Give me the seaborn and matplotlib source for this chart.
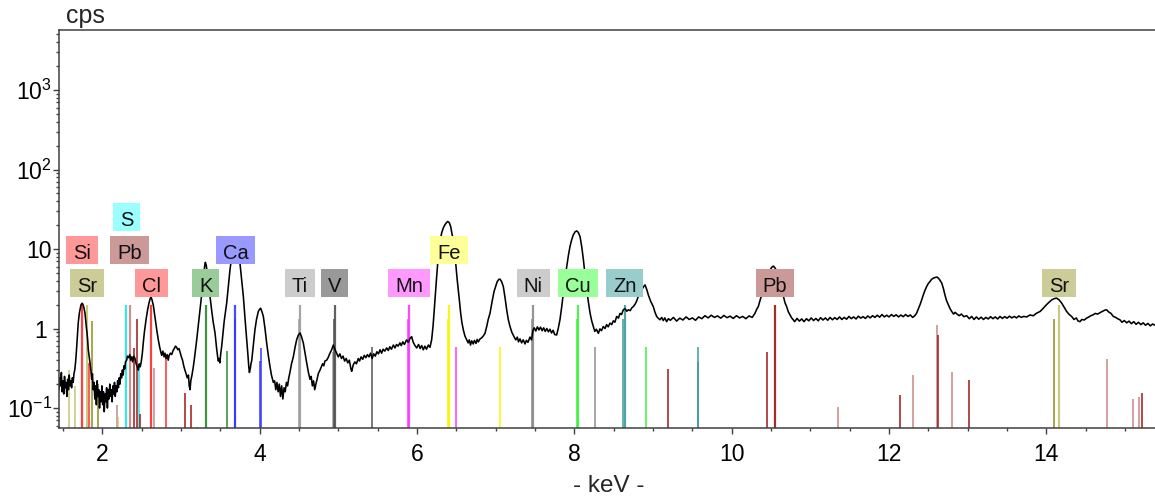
import numpy as np
import pandas as pd
import matplotlib
matplotlib.use("Agg")
import matplotlib.pyplot as plt
import matplotlib.transforms as mtransforms
from matplotlib.patches import Rectangle
from matplotlib.ticker import FixedLocator, FixedFormatter, MultipleLocator, LogLocator, NullFormatter
import seaborn as sns

# ---------------------------------------------------------------- data
# XRF spectrum: (energy in keV, count rate in cps)
spectrum = [
    (1.45, 0.17), (1.46, 0.24), (1.47, 0.19), (1.48, 0.28), (1.49, 0.16), (1.50, 0.22),
    (1.51, 0.15), (1.52, 0.25), (1.53, 0.18), (1.54, 0.21), (1.55, 0.14), (1.56, 0.23),
    (1.57, 0.17), (1.58, 0.26), (1.59, 0.19), (1.60, 0.22), (1.61, 0.18), (1.62, 0.24),
    (1.63, 0.21), (1.64, 0.27), (1.65, 0.30), (1.66, 0.37), (1.67, 0.50), (1.68, 0.72),
    (1.695, 1.2), (1.71, 1.6), (1.73, 2.0), (1.745, 2.08), (1.755, 2.0), (1.765, 1.85),
    (1.78, 1.57), (1.795, 1.1), (1.806, 0.88), (1.815, 0.7), (1.822, 0.54), (1.833, 0.45),
    (1.844, 0.37), (1.855, 0.30), (1.865, 0.23), (1.875, 0.27), (1.885, 0.17), (1.895, 0.21),
    (1.905, 0.13), (1.915, 0.19), (1.925, 0.11), (1.935, 0.22), (1.945, 0.14), (1.955, 0.17),
    (1.965, 0.10), (1.975, 0.16), (1.985, 0.12), (1.995, 0.19), (2.005, 0.11), (2.015, 0.16),
    (2.025, 0.09), (2.035, 0.15), (2.045, 0.12), (2.055, 0.18), (2.065, 0.10), (2.075, 0.17),
    (2.085, 0.13), (2.095, 0.20), (2.105, 0.14), (2.115, 0.17), (2.125, 0.12), (2.135, 0.19),
    (2.145, 0.15), (2.155, 0.21), (2.165, 0.14), (2.175, 0.19), (2.185, 0.16), (2.195, 0.22),
    (2.205, 0.18), (2.215, 0.24), (2.225, 0.20), (2.235, 0.27), (2.245, 0.24), (2.255, 0.30),
    (2.265, 0.26), (2.275, 0.34), (2.285, 0.31), (2.295, 0.38), (2.31, 0.40), (2.32, 0.45),
    (2.335, 0.43), (2.35, 0.47), (2.36, 0.40), (2.375, 0.44), (2.385, 0.38), (2.40, 0.45),
    (2.416, 0.42), (2.43, 0.36), (2.445, 0.33), (2.458, 0.30), (2.47, 0.36), (2.482, 0.33),
    (2.495, 0.38), (2.51, 0.50), (2.521, 0.66), (2.535, 0.90), (2.556, 1.29), (2.575, 1.7),
    (2.594, 2.1), (2.61, 2.4), (2.62, 2.48), (2.632, 2.3), (2.649, 1.95), (2.665, 1.5),
    (2.679, 1.2), (2.695, 0.92), (2.712, 0.72), (2.73, 0.58), (2.745, 0.50), (2.755, 0.46),
    (2.77, 0.52), (2.785, 0.44), (2.797, 0.49), (2.81, 0.42), (2.825, 0.47), (2.838, 0.40),
    (2.85, 0.46), (2.865, 0.49), (2.882, 0.47), (2.90, 0.53), (2.915, 0.56), (2.93, 0.60),
    (2.945, 0.58), (2.96, 0.54), (2.975, 0.56), (2.99, 0.50), (3.005, 0.44), (3.02, 0.40),
    (3.035, 0.34), (3.05, 0.30), (3.065, 0.27), (3.08, 0.24), (3.095, 0.26), (3.105, 0.19),
    (3.115, 0.17), (3.125, 0.22), (3.14, 0.26), (3.157, 0.33), (3.175, 0.45), (3.20, 0.72),
    (3.22, 1.1), (3.241, 1.72), (3.262, 2.6), (3.284, 4.0), (3.30, 6.0), (3.31, 6.8),
    (3.322, 6.2), (3.345, 4.0), (3.369, 2.5), (3.39, 1.7), (3.41, 1.2), (3.433, 0.88),
    (3.45, 0.60), (3.465, 0.45), (3.475, 0.39), (3.485, 0.42), (3.495, 0.37), (3.505, 0.48),
    (3.517, 0.59), (3.535, 0.90), (3.55, 1.25), (3.565, 1.6), (3.581, 2.09), (3.61, 4.0),
    (3.623, 5.5), (3.645, 8.0), (3.665, 10.5), (3.69, 11.5), (3.715, 10.5), (3.735, 8.0),
    (3.75, 6.6), (3.77, 4.2), (3.793, 2.53), (3.815, 1.3), (3.836, 0.72), (3.85, 0.48),
    (3.862, 0.33), (3.87, 0.28), (3.88, 0.31), (3.89, 0.36), (3.90, 0.40), (3.92, 0.62),
    (3.94, 0.96), (3.96, 1.3), (3.983, 1.64), (4.0, 1.75), (4.013, 1.8), (4.03, 1.62),
    (4.047, 1.42), (4.068, 1.0), (4.089, 0.66), (4.11, 0.46), (4.132, 0.33), (4.15, 0.26),
    (4.174, 0.21), (4.19, 0.22), (4.205, 0.17), (4.22, 0.21), (4.235, 0.16), (4.25, 0.20),
    (4.265, 0.14), (4.28, 0.19), (4.295, 0.13), (4.31, 0.18), (4.325, 0.16), (4.34, 0.21),
    (4.355, 0.19), (4.37, 0.24), (4.385, 0.28), (4.405, 0.36), (4.428, 0.44), (4.45, 0.58),
    (4.47, 0.72), (4.49, 0.82), (4.513, 0.88), (4.53, 0.80), (4.555, 0.66), (4.575, 0.50),
    (4.598, 0.37), (4.62, 0.28), (4.64, 0.23), (4.655, 0.25), (4.67, 0.19), (4.685, 0.22),
    (4.70, 0.17), (4.715, 0.20), (4.73, 0.23), (4.745, 0.27), (4.767, 0.30), (4.785, 0.33),
    (4.80, 0.36), (4.815, 0.34), (4.83, 0.39), (4.852, 0.40), (4.87, 0.43), (4.89, 0.48),
    (4.915, 0.54), (4.936, 0.62), (4.955, 0.55), (4.979, 0.49), (5.0, 0.44), (5.02, 0.48),
    (5.04, 0.42), (5.06, 0.45), (5.08, 0.39), (5.10, 0.42), (5.12, 0.37), (5.14, 0.40),
    (5.16, 0.31), (5.17, 0.29), (5.19, 0.35), (5.21, 0.38), (5.23, 0.36), (5.254, 0.42),
    (5.27, 0.39), (5.29, 0.44), (5.31, 0.41), (5.33, 0.46), (5.35, 0.43), (5.37, 0.47),
    (5.39, 0.44), (5.41, 0.49), (5.43, 0.42), (5.45, 0.48), (5.47, 0.45), (5.49, 0.51),
    (5.51, 0.48), (5.53, 0.54), (5.55, 0.49), (5.57, 0.55), (5.59, 0.52), (5.615, 0.57),
    (5.635, 0.53), (5.655, 0.59), (5.675, 0.55), (5.70, 0.62), (5.72, 0.57), (5.74, 0.63),
    (5.76, 0.60), (5.783, 0.66), (5.80, 0.61), (5.82, 0.68), (5.84, 0.63), (5.868, 0.72),
    (5.89, 0.67), (5.91, 0.75), (5.932, 0.79), (5.95, 0.68), (5.97, 0.62), (5.996, 0.57),
    (6.02, 0.63), (6.04, 0.56), (6.06, 0.61), (6.08, 0.54), (6.10, 0.60), (6.12, 0.55),
    (6.144, 0.62), (6.165, 0.58), (6.186, 0.72), (6.205, 1.1), (6.228, 2.3), (6.25, 4.5),
    (6.27, 8.1), (6.29, 12.0), (6.313, 15.9), (6.335, 18.5), (6.355, 20.2), (6.375, 21.5),
    (6.39, 22.2), (6.41, 21.5), (6.428, 19.2), (6.445, 15.5), (6.461, 13.1), (6.48, 9.0),
    (6.496, 6.0), (6.51, 4.2), (6.525, 3.07), (6.54, 2.2), (6.555, 1.56), (6.57, 1.2),
    (6.589, 0.96), (6.61, 0.80), (6.632, 0.72), (6.65, 0.66), (6.665, 0.72), (6.68, 0.62),
    (6.695, 0.70), (6.715, 0.64), (6.73, 0.71), (6.75, 0.65), (6.765, 0.73), (6.78, 0.68),
    (6.80, 0.74), (6.82, 0.76), (6.84, 0.80), (6.864, 0.87), (6.885, 1.05), (6.905, 1.3),
    (6.928, 1.56), (6.955, 2.2), (6.979, 2.92), (7.0, 3.4), (7.02, 3.9), (7.04, 4.15),
    (7.055, 4.18), (7.075, 3.9), (7.097, 3.38), (7.12, 2.4), (7.14, 1.72), (7.16, 1.3),
    (7.182, 1.06), (7.205, 0.90), (7.233, 0.79), (7.255, 0.72), (7.275, 0.78), (7.29, 0.68),
    (7.309, 0.74), (7.33, 0.66), (7.35, 0.72), (7.373, 0.64), (7.39, 0.71), (7.41, 0.67),
    (7.436, 0.78), (7.455, 0.72), (7.475, 0.95), (7.49, 1.02), (7.51, 0.93), (7.53, 1.05),
    (7.55, 0.96), (7.57, 1.04), (7.59, 0.94), (7.61, 1.02), (7.63, 0.92), (7.65, 1.0),
    (7.67, 0.91), (7.69, 0.98), (7.71, 0.88), (7.73, 0.95), (7.75, 0.84), (7.775, 0.83),
    (7.795, 1.0), (7.817, 1.29), (7.84, 1.9), (7.86, 2.79), (7.88, 4.1), (7.903, 6.0),
    (7.925, 8.4), (7.945, 10.8), (7.965, 13.0), (7.987, 15.1), (8.01, 16.5), (8.03, 16.9),
    (8.05, 16.2), (8.072, 14.4), (8.095, 10.5), (8.115, 7.3), (8.135, 4.8), (8.157, 3.07),
    (8.18, 2.1), (8.20, 1.56), (8.22, 1.25), (8.241, 1.06), (8.26, 0.92), (8.28, 0.98),
    (8.305, 0.87), (8.325, 0.99), (8.345, 0.94), (8.368, 1.06), (8.39, 1.0), (8.41, 1.12),
    (8.43, 1.05), (8.453, 1.17), (8.475, 1.12), (8.495, 1.25), (8.515, 1.2), (8.538, 1.42),
    (8.56, 1.35), (8.58, 1.55), (8.60, 1.5), (8.622, 1.72), (8.645, 1.78), (8.666, 1.65),
    (8.686, 1.72), (8.71, 1.68), (8.73, 1.82), (8.75, 1.89), (8.775, 2.05), (8.79, 2.2),
    (8.805, 2.41), (8.83, 2.75), (8.856, 3.07), (8.875, 3.3), (8.898, 3.54), (8.92, 3.1),
    (8.94, 2.65), (8.97, 2.2), (9.003, 1.89), (9.025, 1.6), (9.046, 1.42), (9.065, 1.35),
    (9.088, 1.29), (9.11, 1.38), (9.13, 1.26), (9.15, 1.36), (9.173, 1.22), (9.195, 1.33),
    (9.22, 1.27), (9.26, 1.38), (9.30, 1.24), (9.34, 1.35), (9.38, 1.28), (9.42, 1.40),
    (9.46, 1.30), (9.50, 1.36), (9.54, 1.27), (9.58, 1.40), (9.62, 1.33), (9.66, 1.45),
    (9.70, 1.36), (9.74, 1.47), (9.78, 1.38), (9.82, 1.44), (9.86, 1.35), (9.90, 1.46),
    (9.94, 1.37), (9.98, 1.43), (10.02, 1.34), (10.06, 1.45), (10.10, 1.36), (10.14, 1.42),
    (10.18, 1.33), (10.22, 1.44), (10.26, 1.38), (10.295, 1.55), (10.318, 1.75), (10.338, 1.89),
    (10.368, 2.41), (10.393, 2.79), (10.42, 3.6), (10.45, 4.5), (10.48, 5.3), (10.51, 5.9),
    (10.53, 6.1), (10.555, 5.7), (10.585, 4.8), (10.61, 3.9), (10.635, 3.1), (10.656, 2.53),
    (10.678, 2.1), (10.698, 1.89), (10.72, 1.62), (10.74, 1.49), (10.762, 1.36), (10.782, 1.29),
    (10.80, 1.22), (10.83, 1.34), (10.86, 1.24), (10.89, 1.32), (10.92, 1.22), (10.95, 1.33),
    (10.98, 1.25), (11.01, 1.36), (11.04, 1.26), (11.07, 1.34), (11.10, 1.25), (11.13, 1.37),
    (11.16, 1.28), (11.19, 1.36), (11.22, 1.27), (11.25, 1.38), (11.28, 1.29), (11.31, 1.37),
    (11.34, 1.30), (11.37, 1.40), (11.40, 1.30), (11.43, 1.38), (11.46, 1.31), (11.49, 1.42),
    (11.52, 1.33), (11.55, 1.40), (11.58, 1.32), (11.61, 1.43), (11.64, 1.35), (11.67, 1.41),
    (11.70, 1.34), (11.73, 1.44), (11.76, 1.36), (11.79, 1.45), (11.82, 1.38), (11.85, 1.47),
    (11.88, 1.39), (11.91, 1.50), (11.94, 1.40), (11.97, 1.47), (12.00, 1.40), (12.03, 1.50),
    (12.06, 1.42), (12.09, 1.49), (12.12, 1.40), (12.15, 1.48), (12.18, 1.41), (12.21, 1.50),
    (12.24, 1.42), (12.27, 1.48), (12.30, 1.38), (12.33, 1.46), (12.35, 1.56), (12.37, 1.75),
    (12.393, 1.99), (12.415, 2.3), (12.435, 2.65), (12.455, 3.0), (12.478, 3.38), (12.50, 3.7),
    (12.52, 3.9), (12.54, 4.15), (12.562, 4.3), (12.59, 4.4), (12.613, 4.43), (12.64, 4.15),
    (12.67, 3.72), (12.69, 3.2), (12.71, 2.65), (12.73, 2.25), (12.753, 1.99), (12.775, 1.78),
    (12.796, 1.64), (12.82, 1.52), (12.84, 1.60), (12.86, 1.53), (12.89, 1.45), (12.92, 1.52),
    (12.95, 1.41), (12.986, 1.45), (13.02, 1.33), (13.05, 1.42), (13.08, 1.30), (13.11, 1.40),
    (13.14, 1.31), (13.17, 1.39), (13.20, 1.30), (13.23, 1.38), (13.26, 1.32), (13.29, 1.41),
    (13.32, 1.33), (13.35, 1.40), (13.38, 1.32), (13.41, 1.42), (13.44, 1.34), (13.47, 1.41),
    (13.50, 1.35), (13.53, 1.43), (13.56, 1.36), (13.59, 1.42), (13.62, 1.36), (13.65, 1.44),
    (13.68, 1.38), (13.71, 1.42), (13.75, 1.40), (13.79, 1.48), (13.835, 1.45), (13.87, 1.55),
    (13.90, 1.60), (13.92, 1.64), (13.96, 1.80), (14.0, 1.99), (14.035, 2.15), (14.07, 2.3),
    (14.10, 2.38), (14.13, 2.41), (14.16, 2.3), (14.194, 2.09), (14.225, 1.85), (14.257, 1.64),
    (14.29, 1.50), (14.32, 1.42), (14.35, 1.30), (14.38, 1.36), (14.40, 1.25), (14.426, 1.22),
    (14.45, 1.30), (14.48, 1.28), (14.51, 1.35), (14.54, 1.40), (14.565, 1.45), (14.595, 1.49),
    (14.62, 1.55), (14.65, 1.52), (14.68, 1.58), (14.71, 1.64), (14.74, 1.70), (14.766, 1.72),
    (14.79, 1.62), (14.82, 1.55), (14.85, 1.42), (14.88, 1.38), (14.91, 1.32), (14.934, 1.29),
    (14.96, 1.20), (14.99, 1.26), (15.02, 1.18), (15.05, 1.24), (15.08, 1.15), (15.11, 1.22),
    (15.14, 1.13), (15.17, 1.20), (15.20, 1.12), (15.23, 1.18), (15.26, 1.10), (15.29, 1.16),
    (15.32, 1.08), (15.35, 1.14), (15.38, 1.10),
]

# Emission-line markers: element, line name, energy (keV), marker height (cps)
line_element = [
    "Sr", "Sr", "Si", "Sr", "Si", "Sr", "Sr", "Pb", "Sr",
    "S", "Pb", "Pb", "Pb", "S", "Pb", "Cl", "Pb", "Cl", "Pb", "Pb", "Pb",
    "K", "K", "Ca", "Ca", "Ca", "Ca",
    "Ti", "Ti", "Ti", "V", "V", "V",
    "Mn", "Mn", "Mn", "Fe", "Fe", "Fe",
    "Ni", "Ni", "Ni", "Cu", "Cu", "Cu", "Zn", "Zn", "Zn", "Zn",
    "Pb", "Pb", "Pb", "Pb", "Pb", "Pb", "Pb", "Pb", "Pb", "Pb",
    "Sr", "Sr", "Pb", "Pb", "Pb", "Pb",
]
line_name = [
    "Ll", "Ln", "Ka", "La1", "Kb", "Lb1", "Lb3", "Mz", "Lg1",
    "Ka", "Ma", "Mg2", "Mb", "Kb", "Mx", "Ka", "Mg", "Kb", "M2N4", "M3O", "M1N3",
    "Ka", "Kb", "Ka2", "Ka1", "Kb3", "Kb1",
    "Ka2", "Ka1", "Kb", "Ka2", "Ka1", "Kb",
    "Ka2", "Ka1", "Kb", "Ka2", "Ka1", "Kb",
    "Ka2", "Ka1", "Kb", "Ka2", "Ka1", "Kb", "Ka2", "Ka1", "Kb3", "Kb1",
    "Ll", "La2", "La1", "Ln", "Lb6", "Lb4", "Lb1", "Lb2", "Lb3", "Lb5",
    "Ka2", "Ka1", "Lg1", "Lg5", "Lg2", "Lg3",
]
line_kev = [
    1.582, 1.649, 1.740, 1.806, 1.836, 1.872, 1.947, 2.185, 2.197,
    2.307, 2.346, 2.400, 2.443, 2.464, 2.483, 2.622, 2.653, 2.815, 3.047, 3.122, 3.200,
    3.313, 3.590, 3.688, 3.692, 4.010, 4.013,
    4.505, 4.511, 4.932, 4.945, 4.952, 5.427,
    5.888, 5.899, 6.490, 6.391, 6.404, 7.058,
    7.461, 7.478, 8.265, 8.028, 8.048, 8.905, 8.616, 8.639, 9.570, 9.572,
    9.185, 10.450, 10.551, 11.349, 12.142, 12.306, 12.614, 12.623, 12.795, 13.013,
    14.098, 14.165, 14.764, 15.097, 15.178, 15.216,
]
line_cps = [
    0.30, 0.19, 2.0, 2.0, 0.37, 1.25, 0.20, 0.11, 0.078,
    2.0, 2.0, 0.57, 1.3, 0.35, 0.085, 2.0, 0.32, 0.43, 0.155, 0.11, 0.058,
    2.0, 0.52, 1.3, 2.0, 0.385, 0.57,
    1.3, 2.0, 0.5, 1.3, 2.0, 0.59,
    1.3, 2.0, 0.58, 1.3, 2.0, 0.58,
    1.3, 2.0, 0.59, 1.3, 2.0, 0.59, 1.3, 2.0, 0.38, 0.59,
    0.31, 0.50, 2.0, 0.104, 0.145, 0.26, 1.11, 0.83, 0.285, 0.226,
    1.32, 2.0, 0.415, 0.13, 0.138, 0.154,
]

# Element tags: symbol and the line energy (keV) each tag is centred on
tag_element = ["S", "Si", "Pb", "Ca", "Fe",
               "Sr", "Cl", "K", "Ti", "V", "Mn", "Ni", "Cu", "Zn", "Pb", "Sr"]
tag_kev = [2.307, 1.740, 2.346, 3.692, 6.404,
           1.806, 2.622, 3.313, 4.511, 4.952, 5.899, 7.478, 8.048, 8.639, 10.551, 14.165]
tag_row = [0, 1, 1, 1, 1,
           2, 2, 2, 2, 2, 2, 2, 2, 2, 2, 2]

y_ticks = [0.1, 1, 10, 100, 1000]
y_ticklabels = [r"$\mathregular{10^{-1}}$", "1", "10",
                r"$\mathregular{10^{2}}$", r"$\mathregular{10^{3}}$"]
x_ticks = [2, 4, 6, 8, 10, 12, 14]

# ---------------------------------------------------------------- style
sns.set_style("ticks")
plt.rcParams["font.family"] = ["Liberation Sans", "DejaVu Sans"]
plt.rcParams["mathtext.fontset"] = "custom"
plt.rcParams["mathtext.rm"] = "Liberation Sans"
plt.rcParams["mathtext.it"] = "Liberation Sans:italic"
plt.rcParams["mathtext.bf"] = "Liberation Sans:bold"

line_colors = {
    "Si": "#ff2a2a", "Cl": "#ff2a2a", "S": "#22e6e6", "K": "#2a8a2a",
    "Ca": "#3434ff", "Ti": "#9c9c9c", "V": "#505050", "Mn": "#ff34ff",
    "Fe": "#f6f600", "Ni": "#8a8a8a", "Cu": "#3cf03c", "Zn": "#3a9a9a",
    "Pb": "#9c1414", "Sr": "#8c8c18",
}
light_lines = {
    ("Pb", "Ma"), ("Pb", "Mz"), ("Pb", "Mg"), ("Pb", "M1N3"), ("Pb", "Ln"),
    ("Pb", "Lb4"), ("Pb", "Lb1"), ("Pb", "Lb3"), ("Pb", "Lg1"), ("Pb", "Lg5"),
    ("Pb", "Lg2"), ("Sr", "Ll"), ("Sr", "Ln"), ("Sr", "La1"), ("Sr", "Lg1"),
    ("Sr", "Ka1"),
}
light_colors = {"Pb": "#c88484", "Sr": "#c4c474"}
tag_colors = {
    "Si": "#ff9999", "Sr": "#cccc99", "S": "#99ffff", "Pb": "#cc9999",
    "Cl": "#ff9999", "K": "#99cc99", "Ca": "#9999ff", "Ti": "#cccccc",
    "V": "#999999", "Mn": "#ff99ff", "Fe": "#ffff99", "Ni": "#cccccc",
    "Cu": "#99ff99", "Zn": "#99cccc",
}
tag_levels = [25.4, 9.8, 3.72]
TAG_FONT = 14.5        # pt
TAG_HEIGHT = 28        # px
TAG_HPAD = 7           # px each side
TAG_BASELINE = -9      # px from tag centre to text baseline

W, H = 1155, 499
fig = plt.figure(figsize=(W / 100, H / 100), dpi=100)
ax = fig.add_axes([58.7 / W, 1 - 428.3 / H, 1 - 58.7 / W, (428.3 - 30) / H])
ax.set_yscale("log")
ax.set_xlim(1.446, 15.38)
ax.set_ylim(0.0556, 5690)
y_floor = ax.get_ylim()[0]

# emission-line markers
for el, name, kev, cps in zip(line_element, line_name, line_kev, line_cps):
    col = light_colors[el] if (el, name) in light_lines else line_colors[el]
    main = cps >= 1.9
    ax.vlines(kev, y_floor, cps, colors=col, linewidth=1.6 if main else 1.2,
              alpha=0.9, zorder=1)

# spectrum
df = pd.DataFrame(spectrum, columns=["keV", "cps"])
sns.lineplot(data=df, x="keV", y="cps", color="black", linewidth=1.15,
             estimator=None, sort=False, ax=ax, zorder=2)

# axes cosmetics
for side in ("left", "top", "bottom"):
    ax.spines[side].set_color("#404040")
    ax.spines[side].set_linewidth(1.1)
ax.spines["right"].set_visible(False)

ax.yaxis.set_major_locator(FixedLocator(y_ticks))
ax.yaxis.set_major_formatter(FixedFormatter(y_ticklabels))
ax.yaxis.set_minor_locator(LogLocator(base=10, subs=np.arange(2, 10), numticks=20))
ax.yaxis.set_minor_formatter(NullFormatter())
ax.xaxis.set_major_locator(FixedLocator(x_ticks))
ax.xaxis.set_minor_locator(MultipleLocator(0.5))

ax.tick_params(axis="both", which="major", direction="out", length=4.5, width=1.0,
               color="#404040", labelsize=16.5, labelcolor="black")
ax.tick_params(axis="both", which="minor", direction="out", length=2.5, width=1.0,
               color="#404040")
ax.tick_params(axis="y", which="major", pad=0.5)
ax.tick_params(axis="x", which="major", pad=6)
ax.set_xlabel("")
ax.set_ylabel("")

# the plain "1" label sits a little left of the others
fig.canvas.draw()
for lab in ax.get_yticklabels():
    if lab.get_text() == "1":
        lab.set_transform(lab.get_transform()
                          + mtransforms.ScaledTranslation(-5 / 100, 0, fig.dpi_scale_trans))

# element tags: coloured box centred on the line energy, text on top
renderer = fig.canvas.get_renderer()
text_tf = mtransforms.offset_copy(ax.transData, fig=fig, x=0, y=TAG_BASELINE, units="dots")
to_axes = ax.transAxes.inverted()
for el, kev, row in zip(tag_element, tag_kev, tag_row):
    level = tag_levels[row]
    t = ax.text(kev, level, el, ha="center", va="baseline", fontsize=TAG_FONT,
                color="#111111", transform=text_tf, zorder=4)
    bb = t.get_window_extent(renderer)
    cx, cy = ax.transData.transform((kev, level))
    w = bb.width + 2 * TAG_HPAD
    (x0, y0) = to_axes.transform((cx - w / 2, cy - TAG_HEIGHT / 2))
    (x1, y1) = to_axes.transform((cx + w / 2, cy + TAG_HEIGHT / 2))
    ax.add_patch(Rectangle((x0, y0), x1 - x0, y1 - y0, transform=ax.transAxes,
                           facecolor=tag_colors[el], edgecolor="none", zorder=3,
                           clip_on=False))

fig.text(66 / W, 1 - 23 / H, "cps", ha="left", va="baseline", fontsize=18)
fig.text(609 / W, 1 - 486 / H, "- keV -", ha="center", va="center", fontsize=17.5)

fig.savefig("out.png", dpi=100)
